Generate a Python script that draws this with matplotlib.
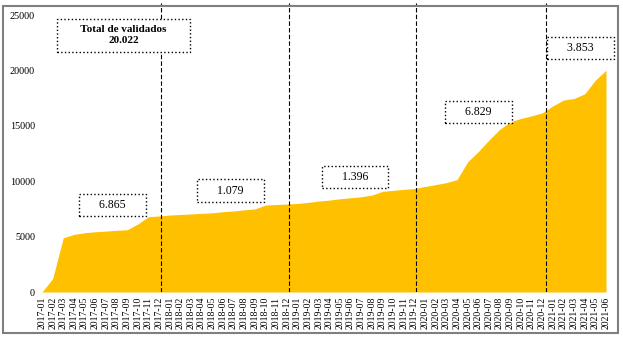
import matplotlib.pyplot as plt
from matplotlib.patches import Rectangle

plt.rcParams["font.family"] = ["Liberation Serif", "DejaVu Serif"]

# cumulative validations per month
months = [f"{y}-{m:02d}" for y in range(2017, 2022) for m in range(1, 13)][:54]
cumulative = [
    0, 1200, 4900, 5200, 5350, 5440, 5500, 5570, 5620, 6140, 6800, 6865,
    6950, 7000, 7050, 7100, 7150, 7250, 7320, 7420, 7500, 7850, 7900, 7944,
    8000, 8090, 8210, 8300, 8420, 8510, 8600, 8750, 9090, 9180, 9270, 9340,
    9530, 9700, 9880, 10150, 11760, 12680, 13720, 14680, 15370, 15670, 15910, 16169,
    16800, 17330, 17480, 17900, 19130, 20022,
]
year_ends = ["2017-12", "2018-12", "2019-12", "2020-12"]
year_totals = ["6.865", "1.079", "1.396", "6.829", "3.853"]
total_title = "Total de validados"
total_value = "20.022"

# where the yearly boxes sit (month index, value)
box_pos = [(6.6, 7830), (17.7, 9160), (29.4, 10350), (41.0, 16220), (50.6, 22050)]

W, H = 623, 337
fig = plt.figure(figsize=(W / 100, H / 100), dpi=100)
ax = fig.add_axes([42 / W, (H - 292) / H, (606 - 42) / W, (292 - 3) / H])

x = range(len(months))
ax.fill_between(x, cumulative, 0, color="#FFC000", lw=0)

# year separators (drawn a touch right of the december tick)
for ym, off in zip(year_ends, [0.2, 0.2, 0.15, 0.35]):
    ax.axvline(months.index(ym) + off, color="black", ls=(0, (4, 2)), lw=0.8)

pad = " " * 5
for (bx, by), lab in zip(box_pos, year_totals):
    ax.text(bx, by, pad + lab + pad, ha="center", va="center", fontsize=8.5,
            zorder=5,
            bbox=dict(boxstyle="square,pad=0.43", fc="white", ec="black",
                      ls=":", lw=1.0))
pad = " " * 6
ax.text(7.66, 23200, pad + total_title + pad + "\n" + total_value,
        ha="center", va="center", fontsize=8, fontweight="bold",
        linespacing=1.25, zorder=5,
        bbox=dict(boxstyle="square,pad=0.6", fc="white", ec="black",
                  ls=":", lw=1.0))

ax.set_xlim(0, len(months) - 1)
ax.set_ylim(0, 26100)
ax.set_yticks(range(0, 25001, 5000))
ax.set_xticks(list(x))
ax.set_xticklabels(months, rotation=90, fontsize=7)
ax.tick_params(axis="y", labelsize=7.3, length=0, pad=5)
ax.tick_params(axis="x", length=0, pad=3.5)
for s in ax.spines.values():
    s.set_visible(False)

# outer frame
fig.patches.append(Rectangle((3 / W, 4 / H), (618 - 3) / W, (334 - 7) / H,
                             transform=fig.transFigure, fill=False,
                             ec="#7f7f7f", lw=1.5))

fig.savefig("out.png", dpi=100)
